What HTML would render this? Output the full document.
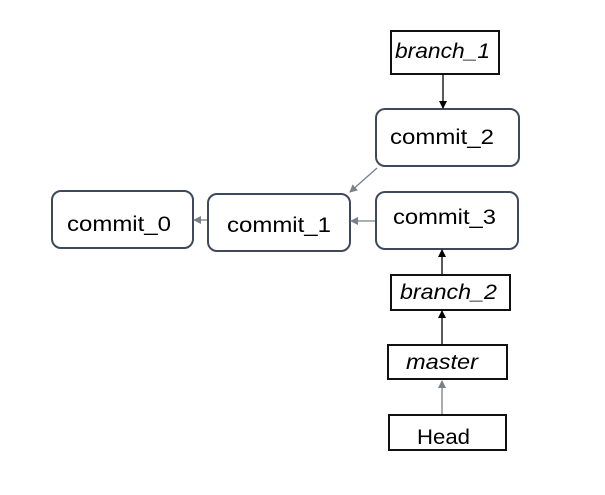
<!DOCTYPE html>
<html><head><style>html,body{margin:0;padding:0;background:#fff}</style></head>
<body>
<svg width="605" height="495" xmlns="http://www.w3.org/2000/svg" style="display:block">
<defs>
<marker id="ab" markerWidth="8" markerHeight="8" refX="7" refY="4" orient="auto" markerUnits="userSpaceOnUse"><path d="M0,0 L8,4 L0,8 z" fill="#000"/></marker>
<marker id="ag" markerWidth="8" markerHeight="8" refX="7" refY="4" orient="auto" markerUnits="userSpaceOnUse"><path d="M0,0 L8,4 L0,8 z" fill="#7a7f88"/></marker>
</defs>
<g fill="#fff" stroke="#3e4a5c" stroke-width="2">
<rect x="52" y="191" width="141" height="57" rx="9"/>
<rect x="208" y="194" width="142" height="57" rx="9"/>
<rect x="376" y="109" width="143" height="57" rx="9"/>
<rect x="376" y="192" width="142" height="57" rx="9"/>
</g>
<g fill="#fff" stroke="#111" stroke-width="2">
<rect x="391" y="31" width="108" height="43"/>
<rect x="391" y="275" width="119" height="35"/>
<rect x="388" y="345" width="119" height="34"/>
<rect x="389" y="415" width="117" height="35"/>
</g>
<g stroke="#000" stroke-width="1.3">
<line x1="443" y1="74" x2="443" y2="108" marker-end="url(#ab)"/>
<line x1="442" y1="274" x2="442" y2="250" marker-end="url(#ab)"/>
<line x1="442" y1="344" x2="442" y2="311" marker-end="url(#ab)"/>
</g>
<g stroke="#7a7f88" stroke-width="1.3">
<line x1="442" y1="414" x2="442" y2="381" marker-end="url(#ag)"/>
<line x1="377" y1="168" x2="350" y2="192" marker-end="url(#ag)"/>
<line x1="375" y1="221" x2="351" y2="221" marker-end="url(#ag)"/>
<line x1="207" y1="220" x2="194" y2="220" marker-end="url(#ag)"/>
</g>
<g font-family="Liberation Sans, sans-serif" font-size="21" fill="#000">
<text x="67" y="231" textLength="104" lengthAdjust="spacingAndGlyphs">commit_0</text>
<text x="227" y="232" textLength="104" lengthAdjust="spacingAndGlyphs">commit_1</text>
<text x="390" y="144" textLength="104" lengthAdjust="spacingAndGlyphs">commit_2</text>
<text x="393" y="224" textLength="103" lengthAdjust="spacingAndGlyphs">commit_3</text>
<text x="417" y="444" textLength="53" lengthAdjust="spacingAndGlyphs">Head</text>
<g font-style="italic">
<text x="395" y="58" textLength="95" lengthAdjust="spacingAndGlyphs">branch_1</text>
<text x="400" y="299" textLength="97" lengthAdjust="spacingAndGlyphs">branch_2</text>
<text x="406" y="369" textLength="72" lengthAdjust="spacingAndGlyphs">master</text>
</g>
</g>
</svg>
</body></html>
